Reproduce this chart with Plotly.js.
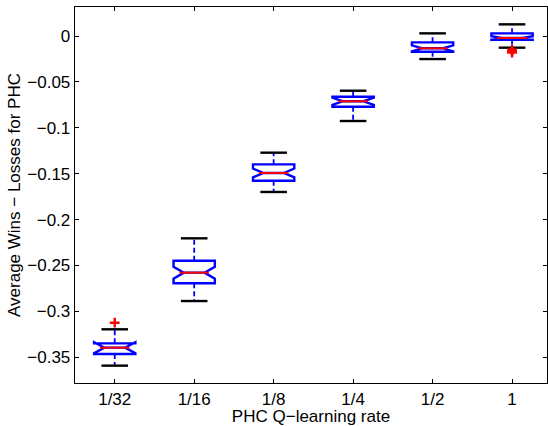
<!DOCTYPE html>
<html>
<head>
<meta charset="utf-8">
<script src="https://cdn.plot.ly/plotly-3.0.1.min.js"></script>
<style>html,body{margin:0;padding:0;background:#fff;}#chart{width:548px;height:426px;}</style>
</head>
<body>
<div id="chart"></div>
<script>
// Data
var categories = ['1/32', '1/16', '1/8', '1/4', '1/2', '1'];
var upperWhisker = [-0.3195, -0.2204, -0.1271, -0.0596, 0.0029, 0.0127];
var q3Values = [-0.3348, -0.2448, -0.1398, -0.0661, -0.0069, 0.0029];
var medianValues = [-0.3395, -0.2578, -0.1492, -0.0711, -0.0134, -0.0022];
var q1Values = [-0.3464, -0.2694, -0.1576, -0.0770, -0.0171, -0.0040];
var lowerWhisker = [-0.3591, -0.2887, -0.1699, -0.0926, -0.0251, -0.0127];
var notchSpan = [0.0060, 0.0065, 0.0048, 0.0040, 0.0033, 0.0020];
var outlierCategory = ['1/32', '1', '1', '1'];
var outlierValues = [-0.3123, -0.0150, -0.0165, -0.0180];
var yTickVals = [0, -0.05, -0.1, -0.15, -0.2, -0.25, -0.3, -0.35];
var yTickText = ['0', '\u22120.05', '\u22120.1', '\u22120.15', '\u22120.2', '\u22120.25', '\u22120.3', '\u22120.35'];

var xPos = categories.map(function (c, i) { return i + 1; });
function posOf(c) { return categories.indexOf(c) + 1; }

var font = {family: 'Liberation Sans, Arial, Helvetica, sans-serif', size: 17, color: '#000'};

// whisker lines (blue dashed)
var wx = [], wy = [];
for (var i = 0; i < categories.length; i++) {
  wx.push(xPos[i], xPos[i], null, xPos[i], xPos[i], null);
  wy.push(q3Values[i], upperWhisker[i], null, q1Values[i], lowerWhisker[i], null);
}

var traces = [
  {
    type: 'scatter', mode: 'lines', x: wx, y: wy,
    line: {color: '#0000ff', width: 1.8, dash: '5px,3px'},
    hoverinfo: 'skip', showlegend: false
  },
  {
    type: 'box', x: xPos,
    q1: q1Values, median: medianValues, q3: q3Values,
    lowerfence: q1Values, upperfence: q3Values,
    notched: true, notchspan: notchSpan, notchwidth: 0.25,
    width: 0.52, whiskerwidth: 0, boxpoints: false,
    line: {color: '#0000ff', width: 2.4},
    fillcolor: 'rgba(0,0,0,0)', showlegend: false
  },
  {
    type: 'scatter', mode: 'markers', x: xPos.concat(xPos), y: upperWhisker.concat(lowerWhisker),
    marker: {symbol: 'line-ew', size: 19, color: '#000', line: {color: '#000', width: 2.4}},
    hoverinfo: 'skip', showlegend: false
  },
  {
    type: 'scatter', mode: 'markers', x: xPos, y: medianValues,
    marker: {symbol: 'line-ew', size: 21, color: '#ff0000', line: {color: '#ff0000', width: 2}},
    hoverinfo: 'skip', showlegend: false
  },
  {
    type: 'scatter', mode: 'markers', x: outlierCategory.map(posOf), y: outlierValues,
    marker: {symbol: 'cross-thin-open', size: 7, color: '#ff0000', line: {color: '#ff0000', width: 2.4}},
    hoverinfo: 'skip', showlegend: false
  }
];

var layout = {
  width: 548, height: 426,
  margin: {l: 75, r: 1, t: 7, b: 43, pad: 0},
  paper_bgcolor: '#fff', plot_bgcolor: '#fff',
  font: font,
  showlegend: false,
  xaxis: {
    range: [0.5, 6.44], tickvals: xPos, ticktext: categories,
    showgrid: false, zeroline: false,
    showline: true, linecolor: '#000', linewidth: 1.3, mirror: 'ticks',
    ticks: 'inside', ticklen: 4, tickcolor: '#000', tickwidth: 1,
    tickfont: font,
    title: {text: 'PHC Q\u2212learning rate', font: font, standoff: 0}
  },
  yaxis: {
    range: [-0.378, 0.0316], tickvals: yTickVals, ticktext: yTickText,
    showgrid: false, zeroline: false,
    showline: true, linecolor: '#000', linewidth: 1.3, mirror: 'ticks',
    ticks: 'inside', ticklen: 4, tickcolor: '#000', tickwidth: 1,
    tickfont: font,
    title: {text: 'Average Wins \u2212 Losses for PHC', font: font, standoff: 2}
  }
};

Plotly.newPlot('chart', traces, layout, {staticPlot: true, displayModeBar: false});
</script>
</body>
</html>
